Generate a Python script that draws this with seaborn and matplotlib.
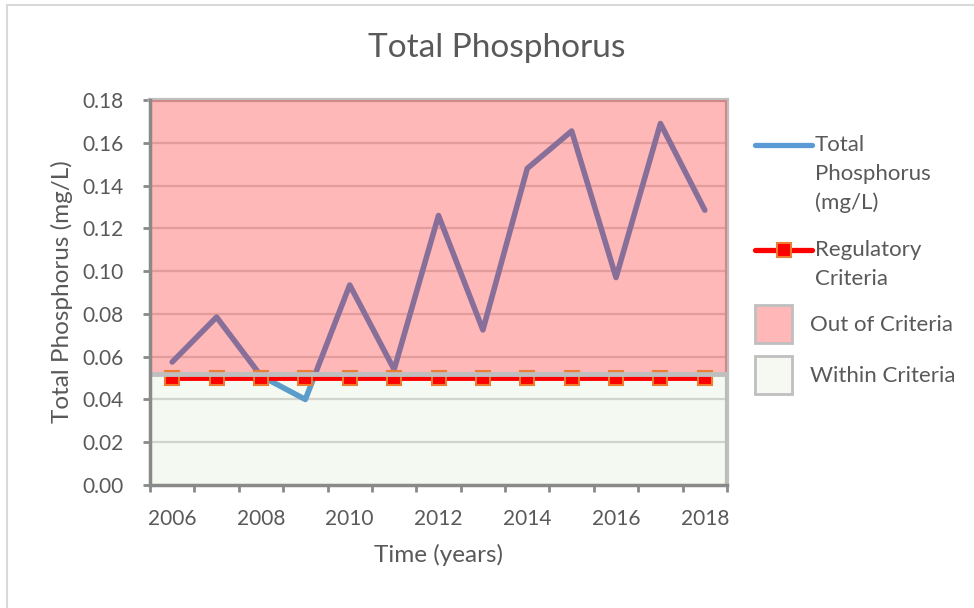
import matplotlib
matplotlib.use("Agg")
import matplotlib.pyplot as plt
import numpy as np
import pandas as pd
import seaborn as sns
from matplotlib.lines import Line2D
from matplotlib.patches import Rectangle

# ── Data ──────────────────────────────────────────────────────────────────────
years = [2006, 2007, 2008, 2009, 2010, 2011, 2012, 2013, 2014, 2015, 2016, 2017, 2018]
phosphorus = [0.0575, 0.0785, 0.051, 0.040, 0.0935, 0.054, 0.126,
              0.0725, 0.148, 0.1655, 0.097, 0.169, 0.1285]
criteria = [0.05] * len(years)
year_labels = ["2006", "2008", "2010", "2012", "2014", "2016", "2018"]
ytick_values = [0.00, 0.02, 0.04, 0.06, 0.08, 0.10, 0.12, 0.14, 0.16, 0.18]
band_edge = 0.052   # boundary between "within" and "out of" criteria bands

df = pd.DataFrame({"year": years, "tp": phosphorus, "crit": criteria})

TXT = "#595959"
AXC = "#898989"
BORDER = "#BFBFBF"
W, H = 974, 608

sns.set_theme(style="white")
plt.rcParams["font.family"] = ["Lato", "DejaVu Sans"]

fig = plt.figure(figsize=(W / 100, H / 100), dpi=100)
ax = fig.add_axes([150 / W, 1 - 485 / H, 577 / W, 385 / H])
ax.set_facecolor("white")


def fx(px):
    return px / W


def fy(py):
    return 1 - py / H


# gridlines under everything
for v in ytick_values[1:-1]:
    ax.axhline(v, color="#D9D9D9", lw=1.6, zorder=1)

# data line (blue; turns purple under the translucent red band)
sns.lineplot(data=df, x="year", y="tp", ax=ax, color="#5B9BD5", lw=4,
             zorder=2, legend=False)

# translucent bands on top
ax.axhspan(band_edge, 0.18, facecolor=(1.0, 0.0, 0.0, 0.28), edgecolor="none", zorder=3)
ax.axhspan(0, band_edge, facecolor=(0.44, 0.68, 0.28, 0.07), edgecolor="none", zorder=3)

# regulatory criteria line
sns.lineplot(data=df, x="year", y="crit", ax=ax, color="#FF0000", lw=3.5,
             marker="s", markersize=10, markerfacecolor="#FF0000",
             markeredgecolor="#ED7D31", markeredgewidth=1.5, zorder=4, legend=False)

ax.axhline(band_edge, color=BORDER, lw=3.5, zorder=5)

ax.set_xlim(2005.5, 2018.5)
ax.set_ylim(0, 0.18)

# ── Axes styling ──────────────────────────────────────────────────────────────
ax.set_yticks(ytick_values)
ax.set_yticklabels([f"{v:.2f}" for v in ytick_values])
ax.set_xticks([int(s) for s in year_labels])
ax.set_xticklabels(year_labels)
ax.set_xticks(np.arange(2005.5, 2019, 1.0), minor=True)
ax.tick_params(axis="x", which="major", length=0, pad=17, labelsize=15, labelcolor=TXT)
ax.tick_params(axis="x", which="minor", length=5, width=2, color=AXC, direction="out")
ax.tick_params(axis="y", length=5, width=2, color=AXC, direction="out",
               labelsize=15, labelcolor=TXT, pad=14)
ax.tick_params(bottom=True, left=True, which="both")

for side in ["left", "bottom"]:
    ax.spines[side].set_color(AXC)
    ax.spines[side].set_linewidth(2.5)
    ax.spines[side].set_zorder(6)
for side in ["top", "right"]:
    ax.spines[side].set_color(BORDER)
    ax.spines[side].set_linewidth(3)

ax.set_xlabel("")
ax.set_ylabel("")
fig.text(fx(439), fy(555), "Time (years)", ha="center", va="center",
         fontsize=17.5, color=TXT)
fig.text(fx(62), fy(292), "Total Phosphorus (mg/L)", ha="center", va="center",
         rotation=90, fontsize=17.5, color=TXT)
fig.text(fx(497), fy(48), "Total Phosphorus", ha="center", va="center",
         fontsize=24, color=TXT)

# ── Legend (drawn in figure pixels, handles aligned with first text line) ─────
fig.add_artist(Line2D([fx(755), fx(812)], [fy(145), fy(145)], color="#5B9BD5",
                      lw=3.8, solid_capstyle="round", transform=fig.transFigure))
fig.add_artist(Line2D([fx(755), fx(812)], [fy(250), fy(250)], color="#FF0000",
                      lw=3.8, solid_capstyle="round", transform=fig.transFigure))
fig.add_artist(Line2D([fx(784)], [fy(250)], marker="s", markersize=10,
                      markerfacecolor="#FF0000", markeredgecolor="#ED7D31",
                      markeredgewidth=1.5, transform=fig.transFigure))
fig.add_artist(Rectangle((fx(755), fy(343)), 37 / W, 38 / H, facecolor="#FFB7B7",
                         edgecolor=BORDER, lw=2, transform=fig.transFigure))
fig.add_artist(Rectangle((fx(755), fy(394)), 37 / W, 38 / H, facecolor="#F5F9F2",
                         edgecolor=BORDER, lw=2, transform=fig.transFigure))

legend_lines = [
    (815, 145, "Total"), (815, 174, "Phosphorus"), (815, 203, "(mg/L)"),
    (815, 250, "Regulatory"), (815, 279, "Criteria"),
    (810, 325, "Out of Criteria"), (810, 376, "Within Criteria"),
]
for x_px, y_px, s in legend_lines:
    fig.text(fx(x_px), fy(y_px), s, ha="left", va="center", fontsize=16, color=TXT)

# outer chart border (left and top edges visible)
fig.add_artist(Rectangle((7 / W, -0.05), 1.0, 1 - 5 / H + 0.05,
                         transform=fig.transFigure, fill=False,
                         edgecolor="#D9D9D9", lw=1.5))

fig.savefig("out.png", dpi=100)
